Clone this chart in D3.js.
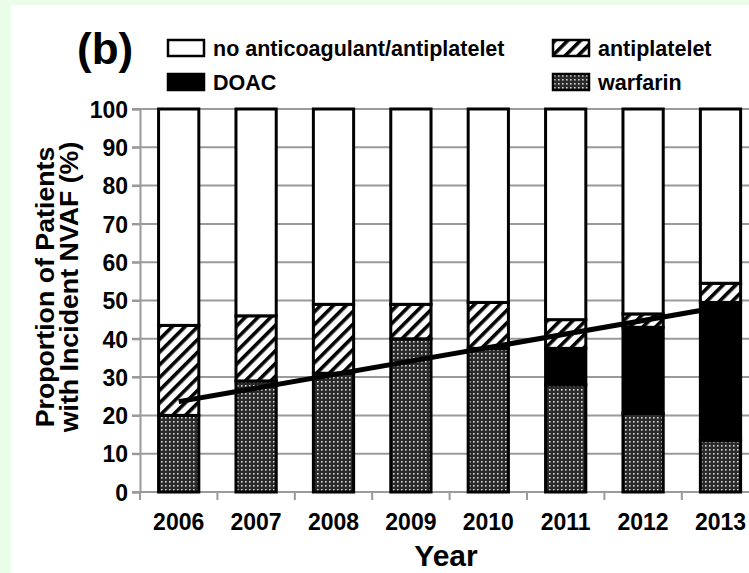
<!DOCTYPE html>
<html>
<head>
<meta charset="utf-8">
<script src="https://cdn.jsdelivr.net/npm/d3@7"></script>
<style>
  html, body { margin: 0; padding: 0; background: #e9fde9; }
  svg { display: block; }
  text { font-family: "Liberation Sans", Arial, Helvetica, sans-serif; font-weight: bold; fill: #000; }
</style>
</head>
<body>
<svg id="chart" width="749" height="573"></svg>
<script>
// chart values (percent of patients)
var years = ["2006", "2007", "2008", "2009", "2010", "2011", "2012", "2013"];
var warfarin = [20, 29, 31, 40, 37.5, 28, 20.5, 13.5];
var doac = [0, 0, 0, 0, 0, 9.5, 22.5, 36];
var antiplatelet = [23.5, 17, 18, 9, 12, 7.5, 3.5, 5];
var yTicks = [0, 10, 20, 30, 40, 50, 60, 70, 80, 90, 100];
// trend line of anticoagulant use, read at first and last year
var trendYears = ["2006", "2013"];
var trendValues = [23.6, 48.3];

var svg = d3.select("#chart");
var width = 749, height = 573;

// white panel on green page
svg.append("rect").attr("x", 11).attr("y", 5).attr("width", width - 11).attr("height", height - 5).attr("fill", "#fff");

var defs = svg.append("defs");
var hatch = defs.append("pattern")
  .attr("id", "hatch")
  .attr("patternUnits", "userSpaceOnUse")
  .attr("width", 9).attr("height", 9)
  .attr("patternTransform", "rotate(45)");
hatch.append("rect").attr("width", 9).attr("height", 9).attr("fill", "#fff");
hatch.append("rect").attr("width", 3.6).attr("height", 9).attr("fill", "#000");

var dots = defs.append("pattern")
  .attr("id", "dots")
  .attr("patternUnits", "userSpaceOnUse")
  .attr("width", 4).attr("height", 4);
dots.append("rect").attr("width", 4).attr("height", 4).attr("fill", "#2a2a2a");
dots.append("rect").attr("x", 1).attr("y", 1).attr("width", 1.6).attr("height", 1.6).attr("fill", "#d8d8d8");

var x = d3.scaleBand().domain(years).range([140, 140 + 8 * 77.4]).paddingInner(0.48).paddingOuter(0.24);
var y = d3.scaleLinear().domain([0, 100]).range([492, 109]);

// gridlines
svg.append("g").selectAll("line").data(yTicks.slice(1)).enter().append("line")
  .attr("x1", 132).attr("x2", width)
  .attr("y1", function(d) { return y(d); }).attr("y2", function(d) { return y(d); })
  .attr("stroke", "#9a9a9a").attr("stroke-width", 2);

// y axis
var yAxis = svg.append("g").attr("transform", "translate(140,0)")
  .call(d3.axisLeft(y).tickValues(yTicks).tickSize(8).tickPadding(4));
yAxis.select(".domain").attr("stroke", "#9a9a9a").attr("stroke-width", 2);
yAxis.selectAll(".tick line").attr("stroke", "#9a9a9a").attr("stroke-width", 2);
yAxis.selectAll(".tick text").attr("font-size", 23).attr("font-family", null).attr("dy", "0.36em");

// x axis line and boundary ticks
svg.append("line").attr("x1", 132).attr("x2", width).attr("y1", y(0)).attr("y2", y(0))
  .attr("stroke", "#9a9a9a").attr("stroke-width", 2);
svg.append("g").selectAll("line").data(d3.range(years.length + 1)).enter().append("line")
  .attr("x1", function(i) { return 140 + i * x.step(); })
  .attr("x2", function(i) { return 140 + i * x.step(); })
  .attr("y1", y(0)).attr("y2", y(0) + 8)
  .attr("stroke", "#9a9a9a").attr("stroke-width", 2);
svg.append("g").selectAll("text").data(years).enter().append("text")
  .attr("x", function(d) { return x(d) + x.bandwidth() / 2; })
  .attr("y", 530)
  .attr("text-anchor", "middle").attr("font-size", 23)
  .text(function(d) { return d; });

// stacked bars
var rows = years.map(function(yr, i) {
  return { year: yr, warfarin: warfarin[i], doac: doac[i], antiplatelet: antiplatelet[i],
    none: 100 - warfarin[i] - doac[i] - antiplatelet[i] };
});
var keys = ["warfarin", "doac", "antiplatelet", "none"];
var fills = { warfarin: "url(#dots)", doac: "#000", antiplatelet: "url(#hatch)", none: "#fff" };
var series = d3.stack().keys(keys)(rows);

svg.append("g").selectAll("g").data(series).enter().append("g")
  .attr("fill", function(s) { return fills[s.key]; })
  .selectAll("rect").data(function(s) { return s.filter(function(d) { return d[1] - d[0] > 0; }); })
  .enter().append("rect")
  .attr("x", function(d) { return x(d.data.year); })
  .attr("width", x.bandwidth())
  .attr("y", function(d) { return y(d[1]); })
  .attr("height", function(d) { return y(d[0]) - y(d[1]); })
  .attr("stroke", "#000").attr("stroke-width", 3);

// trend line
var line = d3.line()
  .x(function(d) { return x(d.year) + x.bandwidth() / 2; })
  .y(function(d) { return y(d.v); });
svg.append("path")
  .datum(trendYears.map(function(yr, i) { return { year: yr, v: trendValues[i] }; }))
  .attr("d", line).attr("fill", "none").attr("stroke", "#000").attr("stroke-width", 5);

// axis titles
svg.append("text").attr("x", 446).attr("y", 566).attr("text-anchor", "middle")
  .attr("font-size", 30).text("Year");
var yt = svg.append("text").attr("transform", "translate(0,287) rotate(-90) scale(1.07,1)")
  .attr("text-anchor", "middle").attr("font-size", 25);
yt.append("tspan").attr("x", 0).attr("y", 54).text("Proportion of Patients");
yt.append("tspan").attr("x", 0).attr("y", 78).text("with Incident NVAF (%)");

// panel label
svg.append("text").attr("x", 77).attr("y", 64).attr("font-size", 44).text("(b)");

// legend
var legendItems = [
  { label: "no anticoagulant/antiplatelet", key: "none", x: 168, y: 40 },
  { label: "antiplatelet", key: "antiplatelet", x: 553, y: 40 },
  { label: "DOAC", key: "doac", x: 168, y: 74 },
  { label: "warfarin", key: "warfarin", x: 553, y: 74 }
];
var lg = svg.append("g").selectAll("g").data(legendItems).enter().append("g")
  .attr("transform", function(d) { return "translate(" + d.x + "," + d.y + ")"; });
lg.append("rect").attr("width", 36).attr("height", 16)
  .attr("fill", function(d) { return fills[d.key]; })
  .attr("stroke", "#000").attr("stroke-width", 2.5);
lg.append("text").attr("x", 45).attr("y", 15.5).attr("font-size", 21.5)
  .text(function(d) { return d.label; });
</script>
</body>
</html>
